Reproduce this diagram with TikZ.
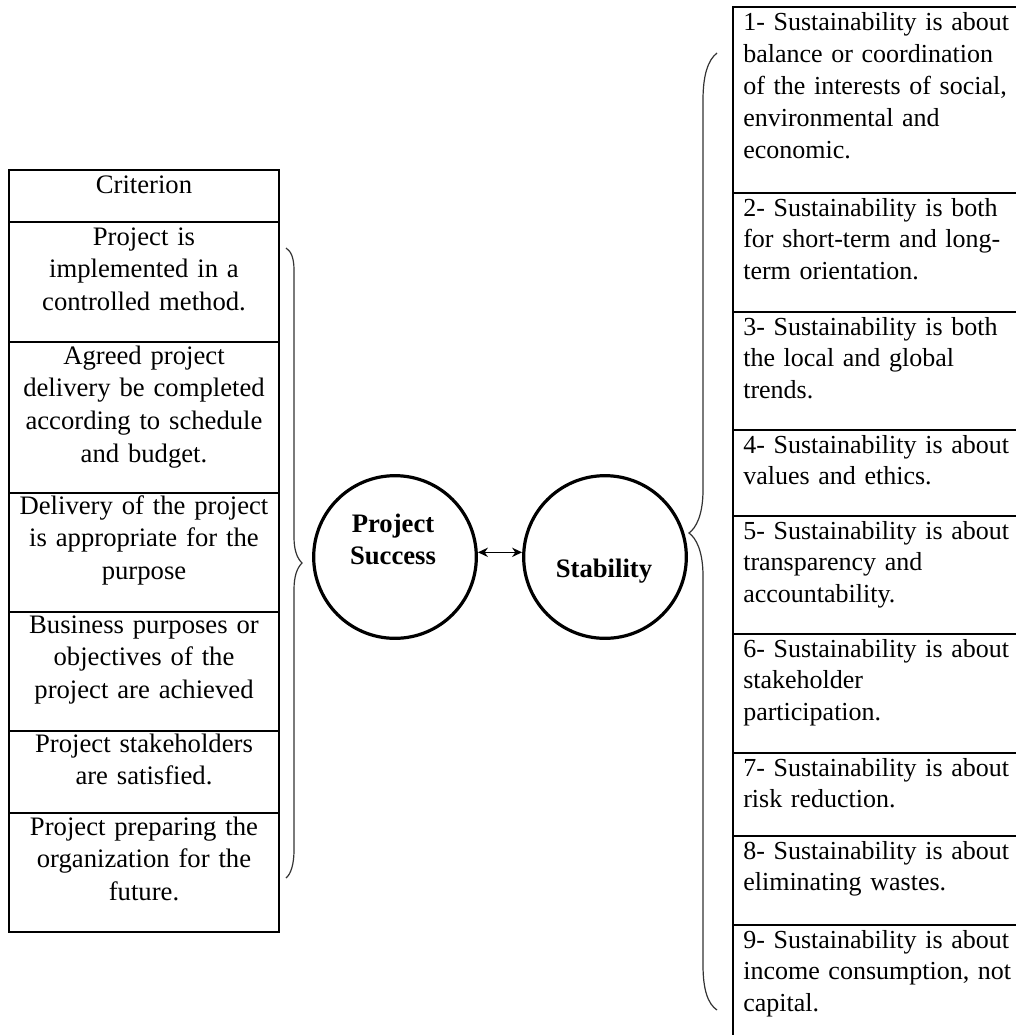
\documentclass[tikz,border=0pt]{standalone}
\usepackage{fontspec}
\setmainfont{Liberation Serif}
\usetikzlibrary{arrows.meta}
\begin{document}
\begin{tikzpicture}[x=0.75pt,y=-0.75pt,
  cell/.style={draw=black, line width=1pt},
  ltxt/.style={font=\fontsize{20}{24.6}\selectfont, anchor=base, inner sep=0pt, text width=200pt, align=center},
  rtxt/.style={font=\fontsize{19.5}{23.9}\selectfont, anchor=base west, inner sep=0pt, text width=215pt, align=left},
  circ/.style={circle, draw=black, line width=2.4pt, minimum size=122pt, inner sep=0pt},
  ctxt/.style={font=\fontsize{20}{24}\selectfont\bfseries, anchor=base, inner sep=0pt, text width=100pt, align=center},
  brace/.style={draw=black!80, line width=0.9pt},
  link/.style={line width=1pt, {Stealth[length=7.5pt,width=7pt]}-{Stealth[length=7.5pt,width=7pt]}}
]
\useasboundingbox (0,0) rectangle (1016,1035);
\clip (0,0) rectangle (1016,1035);

% ---------- left table ----------
\draw[cell] (9,170) rectangle (279,932);
\foreach \yy in {222,342,493,612,731,813}
  \draw[cell] (9,\yy) -- (279,\yy);
\node[ltxt] (l0) at (144,193) {Criterion};
\node[ltxt] (l1) at (144,245) {Project is\\implemented in a\\controlled method.};
\node[ltxt] (l2) at (144,364) {Agreed project\\delivery be completed\\according to schedule\\and budget.};
\node[ltxt] (l3) at (144,514) {Delivery of the project\\is appropriate for the\\purpose};
\node[ltxt] (l4) at (144,633) {Business purposes or\\objectives of the\\project are achieved};
\node[ltxt] (l5) at (144,752) {Project stakeholders\\are satisfied.};
\node[ltxt] (l6) at (144,835) {Project preparing the\\organization for the\\future.};

% ---------- left brace ----------
\draw[brace] (286,248) .. controls (291,251) and (294,258) .. (294,270)
  -- (294,537) .. controls (294,550) and (297,558) .. (302,563)
  .. controls (297,568) and (294,576) .. (294,590)
  -- (294,850) .. controls (294,864) and (291,874) .. (286,878);

% ---------- circles ----------
\node[circ] (ps) at (395,557) {};
\node[ctxt] (pst) at (393,532) {Project\\Success};
\node[circ] (st) at (605,557) {};
\node[ctxt] (stt) at (604,577) {Stability};
\draw[link] ([yshift=3.5pt]ps.east) -- ([yshift=3.5pt]st.west);

% ---------- right brace ----------
\draw[brace] (717,53) .. controls (708,60) and (703,75) .. (703,100)
  -- (703,490) .. controls (703,515) and (696,528) .. (689,533)
  .. controls (696,538) and (703,551) .. (703,576)
  -- (703,965) .. controls (703,990) and (708,1004) .. (717,1010);

% ---------- right table ----------
\draw[cell] (733,7) rectangle (1030,1050);
\foreach \yy in {193,312,430,516,634,753,836,925}
  \draw[cell] (733,\yy) -- (1030,\yy);
\node[rtxt] (r1) at (743,31) {1- Sustainability is about\\balance or coordination\\of the interests of social,\\environmental and\\economic.};
\node[rtxt] (r2) at (743,216) {2- Sustainability is both\\for short-term and long-\\term orientation.};
\node[rtxt] (r3) at (743,335) {3- Sustainability is both\\the local and global\\trends.};
\node[rtxt] (r4) at (743,453) {4- Sustainability is about\\values and ethics.};
\node[rtxt] (r5) at (743,539) {5- Sustainability is about\\transparency and\\accountability.};
\node[rtxt] (r6) at (743,657) {6- Sustainability is about\\stakeholder\\participation.};
\node[rtxt] (r7) at (743,776) {7- Sustainability is about\\risk reduction.};
\node[rtxt] (r8) at (743,859) {8- Sustainability is about\\eliminating wastes.};
\node[rtxt] (r9) at (743,948) {9- Sustainability is about\\income consumption, not\\capital.};
\end{tikzpicture}
\end{document}
